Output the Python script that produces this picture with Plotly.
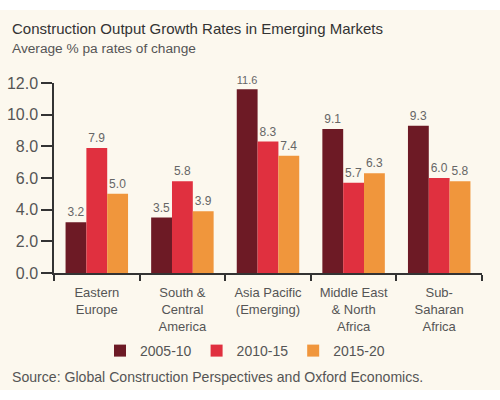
import plotly.graph_objects as go

categories = ["Eastern<br>Europe", "South &<br>Central<br>America", "Asia Pacific<br>(Emerging)",
              "Middle East<br>& North<br>Africa", "Sub-<br>Saharan<br>Africa"]
series_names = ["2005-10", "2010-15", "2015-20"]
v_2005_10 = [3.2, 3.5, 11.6, 9.1, 9.3]
v_2010_15 = [7.9, 5.8, 8.3, 5.7, 6.0]
v_2015_20 = [5.0, 3.9, 7.4, 6.3, 5.8]
colors = ["#6d1a25", "#e0303f", "#f0963c"]
y_ticks = [0, 2, 4, 6, 8, 10, 12]

BG = "#fcf8ee"
FONT = "Liberation Sans, Arial, sans-serif"

L, R, T, B = 54, 18, 83, 127
W, H = 500, 400
plot_h = H - T - B
plot_w = W - L - R


def px_to_paper_x(px):
    return (px - L) / plot_w


def px_to_paper_y(py):
    return (H - B - py) / plot_h


fig = go.Figure()
for name, vals, c in zip(series_names, [v_2005_10, v_2010_15, v_2015_20], colors):
    fig.add_trace(go.Bar(
        x=categories, y=vals, name=name, marker=dict(color=c, line=dict(width=0)),
        text=[f"{v:.1f}" for v in vals], textposition="outside",
        textfont=dict(size=12, color="#666666", family=FONT), cliponaxis=False,
    ))

fig.update_layout(
    width=W, height=H,
    margin=dict(l=L, r=R, t=T, b=B, autoexpand=False),
    paper_bgcolor=BG, plot_bgcolor=BG,
    font=dict(family=FONT, color="#555555"),
    barmode="group", bargap=0.27, bargroupgap=0,
    showlegend=True,
    legend=dict(orientation="h", xref="container", yref="container", x=0.49, xanchor="center",
                y=1 - 351 / H, yanchor="middle", font=dict(size=14, color="#555555"),
                itemwidth=30, traceorder="normal", bgcolor="rgba(0,0,0,0)"),
    xaxis=dict(showline=True, linecolor="#333333", linewidth=1.5, ticks="outside",
               tickson="boundaries", ticklen=6, tickcolor="#333333", tickwidth=1.5,
               tickfont=dict(size=13, color="#555555"), showgrid=False, zeroline=False,
               automargin=False, ticklabelstandoff=7),
    yaxis=dict(range=[0, 12], tickvals=y_ticks, ticktext=[f"{t:.1f}" for t in y_ticks],
               showline=True, linecolor="#333333", linewidth=1.5, ticks="outside",
               ticklen=11, tickcolor="#333333", tickwidth=1.5,
               tickfont=dict(size=16, color="#555555"), showgrid=False, zeroline=False,
               automargin=False),
)

fig.add_annotation(text="Construction Output Growth Rates in Emerging Markets",
                   xref="paper", yref="paper", x=px_to_paper_x(10), y=px_to_paper_y(28),
                   xanchor="left", yanchor="middle", showarrow=False,
                   font=dict(size=15, color="#333333", family=FONT))
fig.add_annotation(text="Average % pa rates of change",
                   xref="paper", yref="paper", x=px_to_paper_x(10), y=px_to_paper_y(48),
                   xanchor="left", yanchor="middle", showarrow=False,
                   font=dict(size=13.7, color="#555555", family=FONT))
fig.add_annotation(text="Source: Global Construction Perspectives and Oxford Economics.",
                   xref="paper", yref="paper", x=px_to_paper_x(10), y=px_to_paper_y(377),
                   xanchor="left", yanchor="middle", showarrow=False,
                   font=dict(size=14.1, color="#555555", family=FONT))

# white strips at top and bottom of the page
fig.add_shape(type="rect", xref="paper", yref="paper", x0=px_to_paper_x(0), x1=px_to_paper_x(W),
              y0=px_to_paper_y(10), y1=px_to_paper_y(0), fillcolor="white", line=dict(width=0), layer="below")
fig.add_shape(type="rect", xref="paper", yref="paper", x0=px_to_paper_x(0), x1=px_to_paper_x(W),
              y0=px_to_paper_y(H), y1=px_to_paper_y(390), fillcolor="white", line=dict(width=0), layer="below")

fig.write_html("out.html")
